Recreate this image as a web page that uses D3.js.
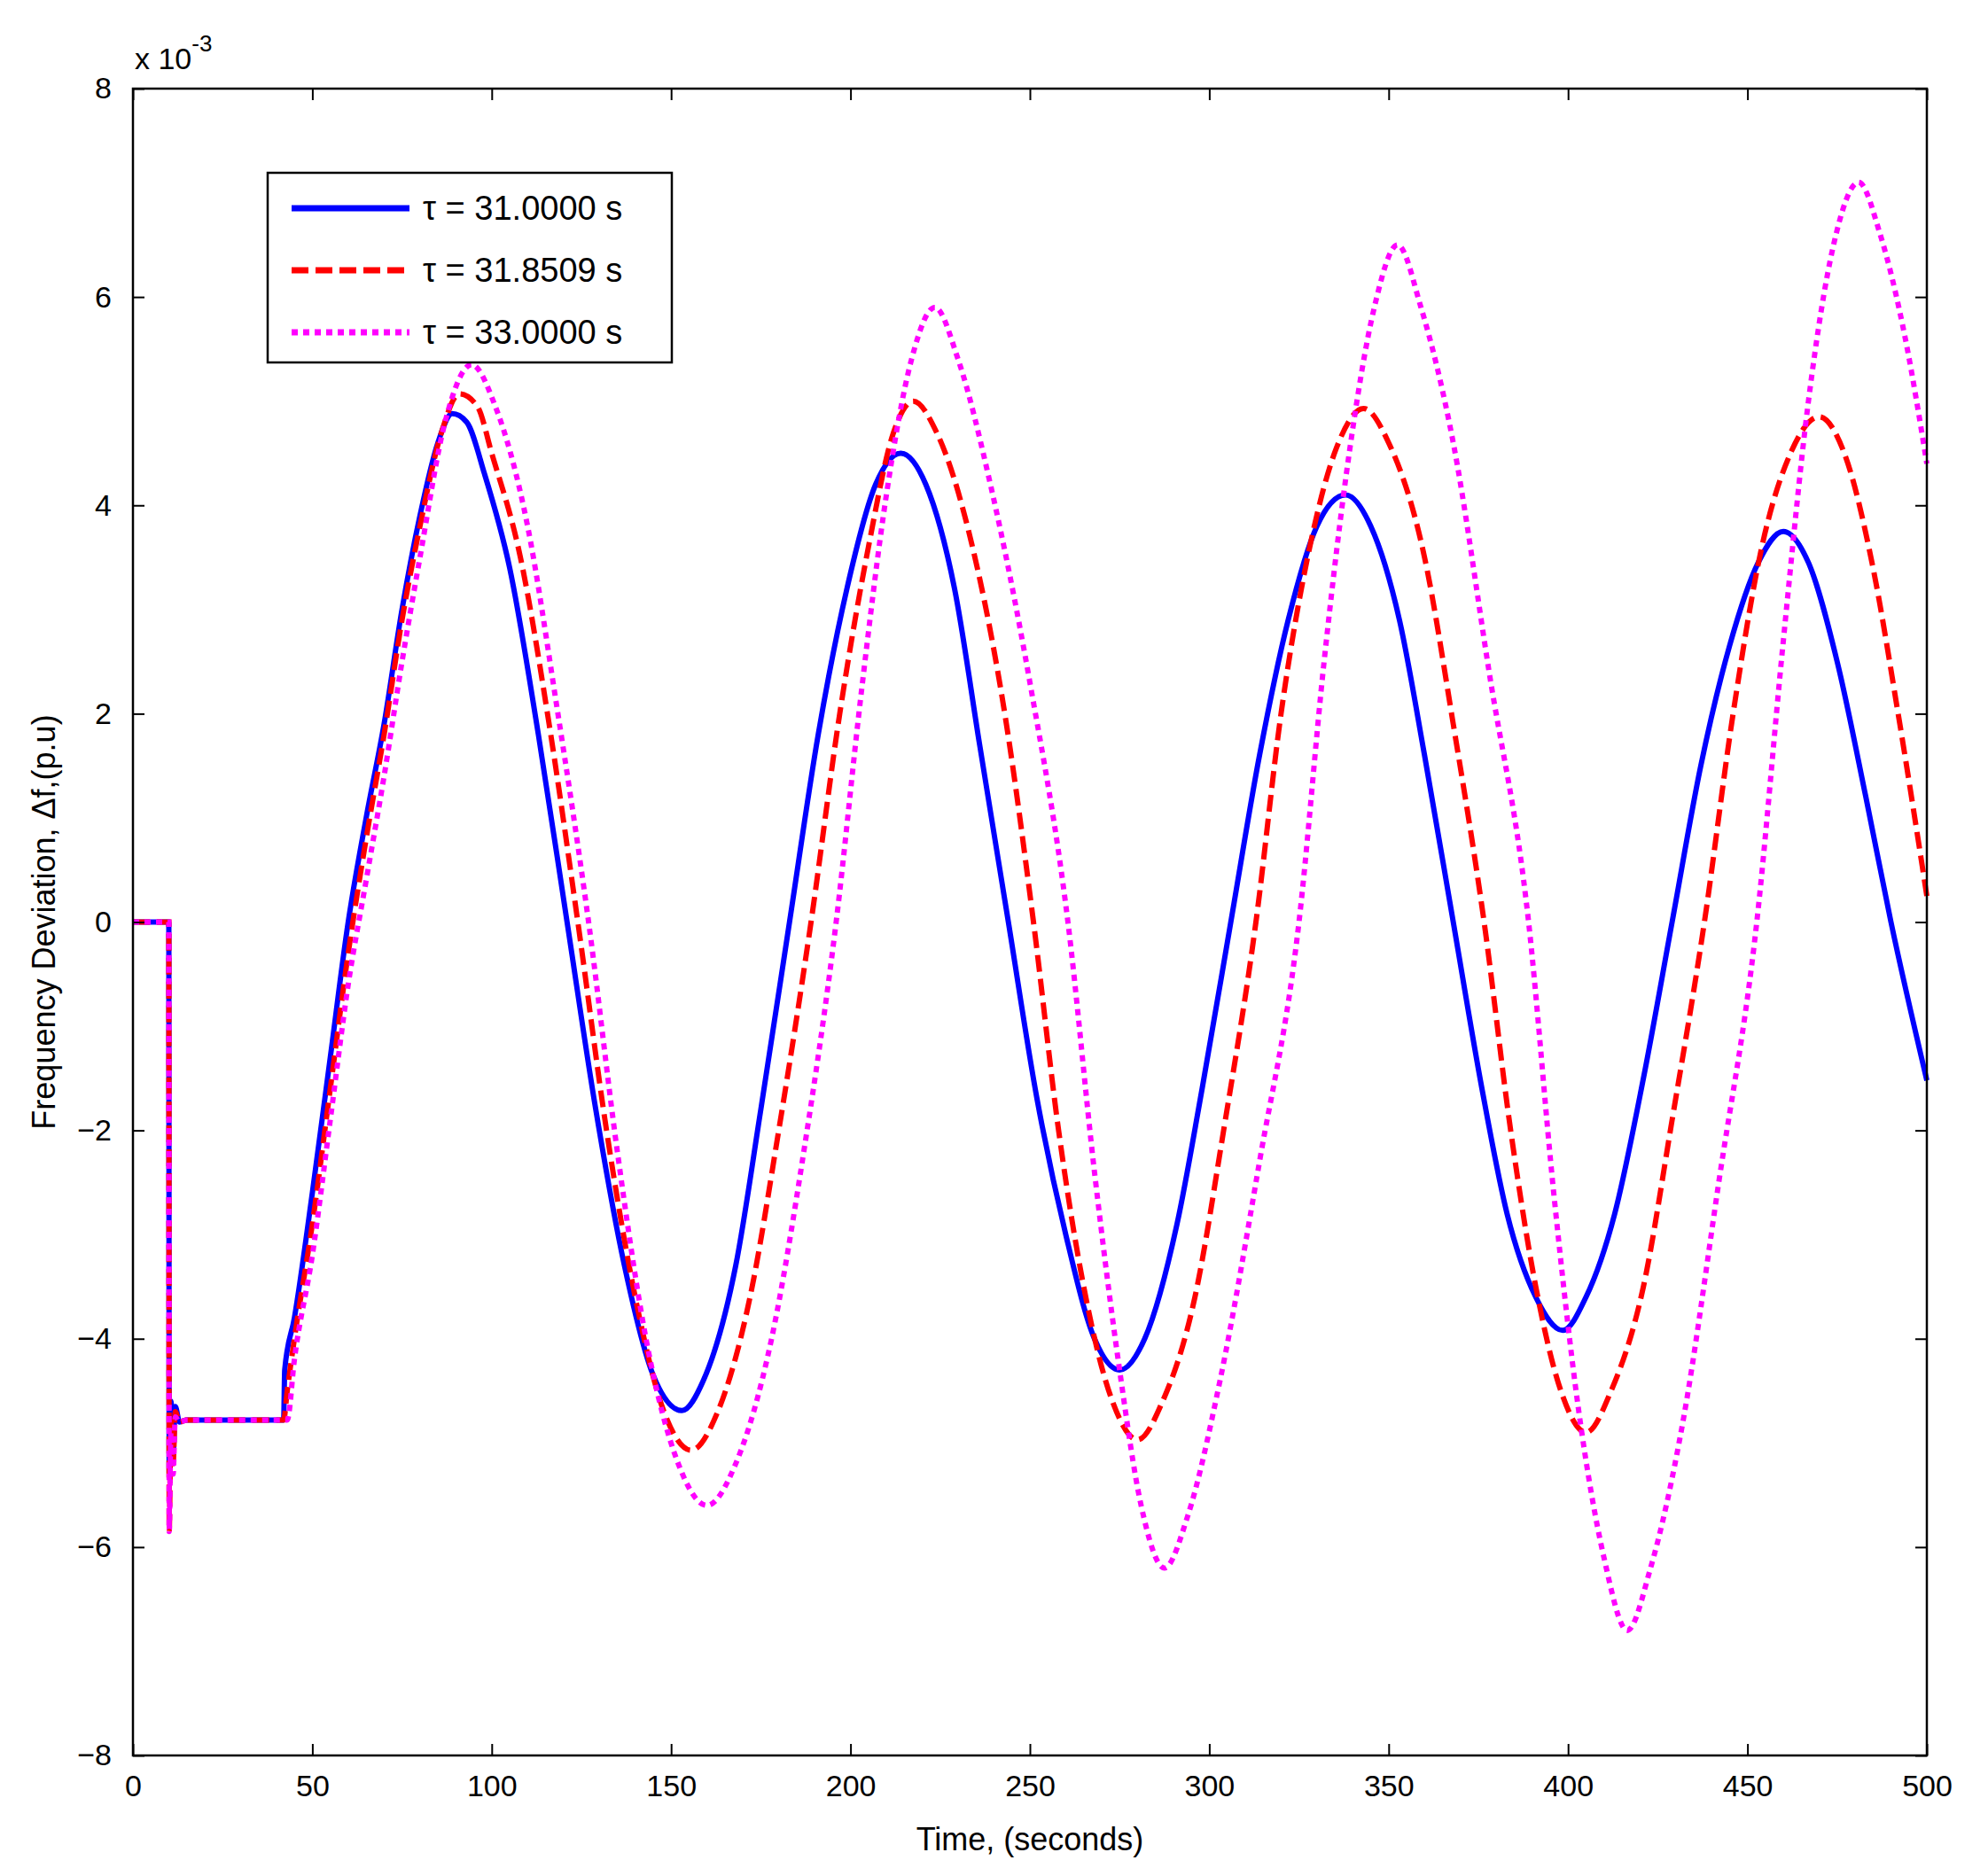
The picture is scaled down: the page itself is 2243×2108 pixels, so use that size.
<!DOCTYPE html>
<head>
<meta charset="utf-8">
<title>Frequency deviation</title>
<script src="https://cdn.jsdelivr.net/npm/d3@7"></script>
<style>
  body { margin: 0; background: #fff; }
  text { font-family: "Liberation Sans", Arial, sans-serif; fill: #000; }
</style>
</head>
<body>
<div id="container"></div>
<script>

// Données (temps en s, Δf en 1e-3 p.u.)
const blue = [[0,0],[10,0],[10.1,-5.3],[10.6,-4.6],[11.2,-5.1],[11.8,-4.65],[13,-4.8],[15,-4.78],[42,-4.78],[42.3,-4.3],[45,-3.8],[50,-2.6],[55,-1.3],[60,0],[65,1.0],[70,1.9],[75,3.0],[80,3.9],[85,4.6],[89,4.88],[93,4.8],[98,4.3],[105,3.4],[113,1.8],[121,0],[129,-1.8],[137,-3.3],[145,-4.35],[153,-4.69],[159,-4.4],[168,-3.3],[175,-1.8],[183,0],[191,1.8],[199,3.2],[207,4.2],[214,4.5],[221,4.2],[229,3.2],[236,1.7],[244,0],[252,-1.7],[260,-3.0],[268,-4.0],[275,-4.3],[282,-4.0],[291,-2.9],[298,-1.6],[306,0],[314,1.6],[322,2.9],[330,3.8],[338,4.1],[345,3.8],[353,2.9],[360,1.6],[368,0],[376,-1.6],[383,-2.8],[391,-3.6],[398.5,-3.92],[405,-3.6],[413,-2.8],[421,-1.5],[429,0],[437,1.5],[445,2.65],[453,3.45],[460,3.75],[467,3.45],[475,2.5],[483,1.2],[490,0],[500,-1.52]];

const red = [[0,0],[10,0],[10.1,-5.85],[10.6,-4.8],[11.2,-5.2],[11.8,-4.7],[13,-4.8],[15,-4.78],[42,-4.78],[43,-4.5],[45,-4.0],[50,-2.9],[55,-1.6],[60,-0.3],[65,0.8],[70,1.8],[75,2.9],[80,3.8],[86,4.7],[91,5.07],[96,4.95],[100,4.5],[108,3.5],[116,1.9],[124,0],[132,-2.0],[140,-3.6],[148,-4.7],[155.6,-5.07],[163,-4.7],[172,-3.6],[180,-2.0],[189,0],[197,2.0],[205,3.6],[212,4.7],[217.5,5.0],[224,4.7],[234,3.6],[243,2.0],[251,0],[258,-2.0],[265,-3.5],[273,-4.6],[280,-4.97],[287,-4.6],[296,-3.6],[304,-2.0],[313,0],[320,2.0],[328,3.6],[336,4.6],[343,4.93],[350,4.6],[360,3.5],[368,1.9],[376.6,0],[384,-2.0],[391,-3.5],[398,-4.5],[405,-4.9],[412,-4.5],[421,-3.5],[429,-1.9],[438,0],[446,2.0],[454,3.6],[462,4.5],[470,4.85],[477,4.5],[485,3.4],[492,2.0],[500,0.25]];

const magenta = [[0,0],[10,0],[10.1,-5.85],[10.6,-4.9],[11.2,-5.3],[11.8,-4.75],[13,-4.8],[15,-4.78],[43,-4.78],[45,-4.2],[50,-3.2],[55,-1.9],[60,-0.6],[65,0.4],[70,1.4],[75,2.5],[80,3.5],[87,4.8],[94.4,5.35],[101,4.95],[110,3.8],[118,2.1],[127,0],[135,-2.2],[143,-4.0],[152,-5.2],[160,-5.6],[168,-5.2],[178,-4.0],[187,-2.2],[196,0],[203,2.2],[210,4.1],[217,5.4],[223.5,5.9],[230,5.4],[239,4.2],[250,2.3],[260.6,0],[268,-2.4],[275,-4.3],[281,-5.6],[287.5,-6.2],[294,-5.7],[303,-4.4],[314,-2.3],[325,0],[332,2.5],[339,4.5],[346,5.9],[352.5,6.5],[359,5.9],[368,4.6],[378,2.4],[389,0],[396,-2.6],[403,-4.7],[410,-6.1],[416.5,-6.8],[423,-6.2],[432,-4.8],[442,-2.5],[452.6,0],[460,2.7],[467,5.0],[474,6.5],[481,7.1],[487,6.6],[494,5.6],[500,4.4]];

const labels = ["\u03C4 = 31.0000 s", "\u03C4 = 31.8509 s", "\u03C4 = 33.0000 s"];
const xTicks = d3.range(0, 501, 50);
const yTicks = d3.range(-8, 9, 2);

const W = 2243, H = 2108;
const mLeft = 150, mRight = 2174, mTop = 100, mBottom = 1981;

const svg = d3.select("#container").append("svg")
  .attr("width", W).attr("height", H);

const x = d3.scaleLinear().domain([0, 500]).range([mLeft, mRight]);
const y = d3.scaleLinear().domain([-8, 8]).range([mBottom, mTop]);

// Séries
const series = [
  { data: blue, color: "#0000ff", dash: null },
  { data: red, color: "#ff0000", dash: "19,8" },
  { data: magenta, color: "#ff00ff", dash: "7,6" }
];

const line = d3.line().x(d => x(d[0])).y(d => y(d[1])).curve(d3.curveMonotoneX);

series.forEach(s => {
  svg.append("path")
    .attr("d", line(s.data))
    .attr("fill", "none")
    .attr("stroke", s.color)
    .attr("stroke-width", 6)
    .attr("stroke-dasharray", s.dash);
});

// Axes (ticks vers l'intérieur, style MATLAB)
const tl = 13;
svg.append("g").attr("transform", `translate(0,${mBottom})`)
  .call(d3.axisBottom(x).tickValues(xTicks).tickSizeInner(-tl).tickSizeOuter(0).tickPadding(22))
  .call(g => g.select(".domain").remove());
svg.append("g").attr("transform", `translate(0,${mTop})`)
  .call(d3.axisTop(x).tickValues(xTicks).tickSizeInner(-tl).tickSizeOuter(0).tickFormat(""))
  .call(g => g.select(".domain").remove());
svg.append("g").attr("transform", `translate(${mLeft},0)`)
  .call(d3.axisLeft(y).tickValues(yTicks).tickSizeInner(-tl).tickSizeOuter(0).tickPadding(24))
  .call(g => g.select(".domain").remove());
svg.append("g").attr("transform", `translate(${mRight},0)`)
  .call(d3.axisRight(y).tickValues(yTicks).tickSizeInner(-tl).tickSizeOuter(0).tickFormat(""))
  .call(g => g.select(".domain").remove());

svg.selectAll(".tick line").attr("stroke", "#000").attr("stroke-width", 2);
svg.selectAll(".tick text").style("font-size", "34px").style("font-family", "Liberation Sans, Arial, sans-serif");

svg.append("rect")
  .attr("x", mLeft).attr("y", mTop)
  .attr("width", mRight - mLeft).attr("height", mBottom - mTop)
  .attr("fill", "none").attr("stroke", "#000").attr("stroke-width", 2.5);

// Libellés
svg.append("text").attr("x", (mLeft + mRight) / 2).attr("y", 2088)
  .attr("text-anchor", "middle").style("font-size", "36px").text("Time, (seconds)");
svg.append("text").attr("transform", `translate(62,${(mTop + mBottom) / 2}) rotate(-90)`)
  .attr("text-anchor", "middle").style("font-size", "36px").text("Frequency Deviation, \u0394f,(p.u)");
const mult = svg.append("text").attr("x", 152).attr("y", 78).style("font-size", "34px");
mult.append("tspan").text("x 10");
mult.append("tspan").attr("dy", -20).style("font-size", "26px").text("-3");

// Légende
const lg = svg.append("g");
lg.append("rect").attr("x", 302).attr("y", 195).attr("width", 456).attr("height", 214)
  .attr("fill", "#fff").attr("stroke", "#000").attr("stroke-width", 2.5);
series.forEach((s, i) => {
  const yy = 235 + i * 70;
  lg.append("line").attr("x1", 329).attr("x2", 462).attr("y1", yy).attr("y2", yy)
    .attr("stroke", s.color).attr("stroke-width", 7).attr("stroke-dasharray", s.dash);
  lg.append("text").attr("x", 477).attr("y", yy + 13).style("font-size", "38px").text(labels[i]);
});

</script>
</body>
